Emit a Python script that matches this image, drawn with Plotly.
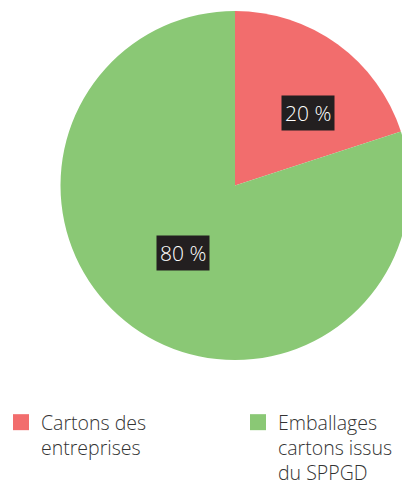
import math
import plotly.graph_objects as go

# ---- data ----
categories = ["Cartons des<br>entreprises", "Emballages<br>cartons issus<br>du SPPGD"]
values = [20, 80]
value_labels = ["20 %", "80 %"]

# ---- style ----
colors = ["#F26D6D", "#8AC875"]
W, H = 410, 481          # canvas slightly wider than the 402 px window: pie is cut at right edge
FONT = "Open Sans"
WEIGHT = 300
FS = 21
LEG_FS = 19.5
TXT = "#333333"
pie_dom_x = [60 / W, 1.0]
pie_dom_y = [121 / H, 470 / H]
label_radius_frac = [0.59, 0.49]
label_angle_shift = [9, 1.5]  # degrees, visual nudge of the label boxes
legend_x = [1 / W, 238 / W]
legend_top = (H - 403) / H

fig = go.Figure()
fig.add_trace(go.Pie(
    labels=categories,
    values=values,
    sort=False,
    direction="clockwise",
    rotation=0,
    textinfo="none",
    hoverinfo="label+percent",
    marker=dict(colors=colors, line=dict(width=0)),
    domain=dict(x=pie_dom_x, y=pie_dom_y),
    showlegend=False,
))

# legend entries (one legend per category, side by side)
legend_names = ["legend", "legend2"]
for i, name in enumerate(categories):
    fig.add_trace(go.Scatter(
        x=[None], y=[None], mode="markers", name=name,
        marker=dict(symbol="square", size=17, color=colors[i]),
        legend=legend_names[i], showlegend=True, hoverinfo="skip",
    ))

# label boxes placed at each slice's angular middle
dom_w = (pie_dom_x[1] - pie_dom_x[0]) * W
dom_h = (pie_dom_y[1] - pie_dom_y[0]) * H
R = min(dom_w, dom_h) / 2
cx = (pie_dom_x[0] + pie_dom_x[1]) / 2 * W
cy = (pie_dom_y[0] + pie_dom_y[1]) / 2 * H  # from bottom
total = sum(values)
start = 0.0
annotations = []
for i, v in enumerate(values):
    frac = v / total
    mid = (start + frac / 2) * 360 + label_angle_shift[i]
    start += frac
    r = R * label_radius_frac[i]
    px = cx + r * math.sin(math.radians(mid))
    py = cy + r * math.cos(math.radians(mid))
    annotations.append(dict(
        x=px / W, y=py / H, xref="paper", yref="paper",
        text=value_labels[i], showarrow=False,
        font=dict(family=FONT, size=FS, color="white", weight=WEIGHT),
        bgcolor="#231F20", borderpad=3,
        xanchor="center", yanchor="middle",
    ))

leg_common = dict(
    orientation="v", yanchor="top", xanchor="left", y=legend_top,
    valign="top", bgcolor="rgba(0,0,0,0)",
    font=dict(family=FONT, size=LEG_FS, color=TXT, weight=WEIGHT),
    itemclick=False, itemdoubleclick=False,
)

fig.update_layout(
    width=W, height=H, autosize=False,
    margin=dict(l=0, r=0, t=0, b=0, autoexpand=False),
    paper_bgcolor="white",
    plot_bgcolor="white",
    font=dict(family=FONT, size=FS, color=TXT),
    xaxis=dict(visible=False),
    yaxis=dict(visible=False),
    annotations=annotations,
    legend=dict(x=legend_x[0], **leg_common),
    legend2=dict(x=legend_x[1], **leg_common),
)

fig.write_html(
    "out.html",
    config={"displayModeBar": False},
    post_script=(
        "document.body.style.margin='0';"
        "document.body.style.overflow='hidden';"
        "document.documentElement.style.overflow='hidden';"
    ),
)
